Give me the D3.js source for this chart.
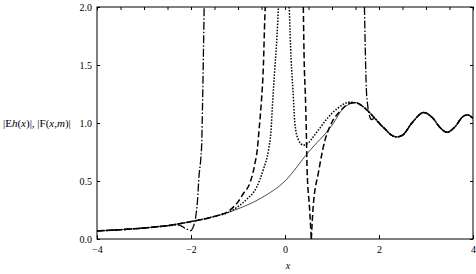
<!DOCTYPE html>
<html>
<head>
<meta charset="utf-8">
<script src="https://cdn.jsdelivr.net/npm/d3@7"></script>
<style>
  body { margin: 0; background: #fff; }
  svg { display: block; }
  svg text { font-family: "Liberation Serif", "DejaVu Serif", serif; }
</style>
</head>
<body>
<div id="container"></div>
<script>
// exact function (thin solid)
var exactPts = [
  [-4, 0.07], [-3.5, 0.08], [-3, 0.095], [-2.5, 0.115], [-2, 0.15], [-1.5, 0.195],
  [-1, 0.26], [-0.5, 0.355], [0, 0.5], [0.5, 0.75], [1, 0.98], [1.25, 1.13],
  [1.5, 1.175], [1.75, 1.11], [2, 1.0], [2.1, 0.96], [2.25, 0.9], [2.38, 0.88],
  [2.5, 0.895], [2.7, 1.0], [2.95, 1.09], [3.15, 1.04], [3.3, 0.96], [3.45, 0.92],
  [3.6, 0.96], [3.8, 1.06], [3.88, 1.07], [4, 1.04]
];
// dotted approximation, two branches around the pole
var dottedLeft = [
  [-4, 0.07], [-3.5, 0.08], [-3, 0.095], [-2.5, 0.115], [-2, 0.15], [-1.5, 0.195],
  [-1.2, 0.23], [-1, 0.28], [-0.82, 0.34], [-0.6, 0.45], [-0.46, 0.6], [-0.35, 0.77],
  [-0.3, 0.92], [-0.26, 1.2], [-0.22, 1.45], [-0.17, 1.75], [-0.14, 2.0]
];
var dottedRight = [
  [0.09, 2.0], [0.13, 1.55], [0.17, 1.28], [0.21, 1.0], [0.28, 0.86], [0.39, 0.81],
  [0.5, 0.83], [0.6, 0.88], [0.75, 0.96], [0.9, 1.04], [1.1, 1.12], [1.38, 1.18],
  [1.5, 1.175], [1.75, 1.11], [2, 1.0], [2.1, 0.96], [2.25, 0.9], [2.38, 0.88],
  [2.5, 0.895], [2.7, 1.0], [2.95, 1.09], [3.15, 1.04], [3.3, 0.96], [3.45, 0.92],
  [3.6, 0.96], [3.8, 1.06], [3.88, 1.07], [4, 1.04]
];
// dashed approximation: pole near -0.42 / 0.39, zero near 0.56
var dashedLeft = [
  [-4, 0.07], [-3.5, 0.08], [-3, 0.095], [-2.5, 0.115], [-2, 0.15], [-1.5, 0.195],
  [-1.17, 0.25], [-1, 0.32], [-0.89, 0.39], [-0.74, 0.49], [-0.64, 0.65], [-0.59, 0.77],
  [-0.55, 0.95], [-0.5, 1.2], [-0.46, 1.49], [-0.43, 1.9], [-0.42, 2.0]
];
var dashedMid = [
  [0.39, 2.0], [0.41, 1.5], [0.43, 1.28], [0.45, 1.0], [0.47, 0.6], [0.52, 0.28], [0.56, 0.0]
];
var dashedRight = [
  [0.56, 0.0], [0.6, 0.28], [0.71, 0.57], [0.85, 0.85], [0.99, 1.0], [1.17, 1.1],
  [1.38, 1.17], [1.5, 1.175], [1.75, 1.11], [2, 1.0], [2.1, 0.96], [2.25, 0.9],
  [2.38, 0.88], [2.5, 0.895], [2.7, 1.0], [2.95, 1.09], [3.15, 1.04], [3.3, 0.96],
  [3.45, 0.92], [3.6, 0.96], [3.8, 1.06], [3.88, 1.07], [4, 1.04]
];
// dash-dot approximation: dip near -2, pole between -1.72 and 1.69
var dashdotLeft = [
  [-4, 0.07], [-3.5, 0.08], [-3, 0.095], [-2.5, 0.115], [-2.25, 0.12], [-2.12, 0.09], [-2.0, 0.07]
];
var dashdotMid = [
  [-2.0, 0.07], [-1.93, 0.13], [-1.89, 0.22], [-1.86, 0.34], [-1.83, 0.54],
  [-1.79, 0.7], [-1.77, 0.85], [-1.76, 1.05], [-1.75, 1.25], [-1.74, 1.49], [-1.72, 2.0]
];
var dashdotRight = [
  [1.69, 2.0], [1.71, 1.6], [1.73, 1.3], [1.76, 1.15], [1.8, 1.06], [1.84, 1.03],
  [1.9, 1.04], [1.97, 1.02], [2.05, 0.975], [2.1, 0.96], [2.25, 0.9], [2.38, 0.88],
  [2.5, 0.895], [2.7, 1.0], [2.95, 1.09], [3.15, 1.04], [3.3, 0.96], [3.45, 0.92],
  [3.6, 0.96], [3.8, 1.06], [3.88, 1.07], [4, 1.04]
];

var xTicks = [-4, -2, 0, 2, 4];
var yTicks = [0, 0.5, 1, 1.5, 2];
var yTickLabels = ["0.0", "0.5", "1.0", "1.5", "2.0"];

var W = 476, H = 274;
var padL = 97, padR = 473, padT = 7, padB = 239;

var x = d3.scaleLinear().domain([-4, 4]).range([padL, padR]);
var y = d3.scaleLinear().domain([0, 2]).range([padB, padT]);

var svg = d3.select("#container").append("svg")
  .attr("width", W)
  .attr("height", H);

svg.append("defs").append("clipPath").attr("id", "clip")
  .append("rect")
  .attr("x", padL).attr("y", padT)
  .attr("width", padR - padL).attr("height", padB - padT);

var line = d3.line()
  .x(function(d) { return x(d[0]); })
  .y(function(d) { return y(d[1]); })
  .curve(d3.curveMonotoneX);

var plot = svg.append("g").attr("clip-path", "url(#clip)");

plot.append("path").datum(exactPts)
  .attr("d", line).attr("fill", "none")
  .attr("stroke", "#000").attr("stroke-width", 0.7);

[dottedLeft, dottedRight].forEach(function(seg) {
  plot.append("path").datum(seg)
    .attr("d", line).attr("fill", "none")
    .attr("stroke", "#000").attr("stroke-width", 1.5)
    .attr("stroke-dasharray", "1.5,1.5");
});

[dashedLeft, dashedMid, dashedRight].forEach(function(seg) {
  plot.append("path").datum(seg)
    .attr("d", line).attr("fill", "none")
    .attr("stroke", "#000").attr("stroke-width", 1.5)
    .attr("stroke-dasharray", "6,3");
});

[dashdotLeft, dashdotMid, dashdotRight].forEach(function(seg) {
  plot.append("path").datum(seg)
    .attr("d", line).attr("fill", "none")
    .attr("stroke", "#000").attr("stroke-width", 1.3)
    .attr("stroke-dasharray", "8,2,1.5,2");
});

// frame with ticks on all four sides
svg.append("g")
  .attr("transform", "translate(0," + padB + ")")
  .call(d3.axisBottom(x).tickValues(xTicks).tickSizeInner(-4).tickSizeOuter(0).tickPadding(7)
    .tickFormat(function(d) { return d < 0 ? "\u2212" + Math.abs(d) : d; }))
  .call(function(g) {
    g.select(".domain").remove();
    g.attr("font-family", null);
    g.selectAll("text").attr("font-size", 10).attr("fill", "#000");
  });

svg.append("g")
  .attr("transform", "translate(0," + padT + ")")
  .call(d3.axisTop(x).tickValues(d3.range(-4, 4.01, 0.5)).tickSizeInner(-3).tickSizeOuter(0).tickFormat(""))
  .call(function(g) { g.select(".domain").remove(); });

svg.append("g")
  .attr("transform", "translate(" + padL + ",0)")
  .call(d3.axisLeft(y).tickValues(yTicks).tickSizeInner(-3).tickSizeOuter(0).tickPadding(5)
    .tickFormat(function(d, i) { return yTickLabels[i]; }))
  .call(function(g) {
    g.select(".domain").remove();
    g.attr("font-family", null);
    g.selectAll("text").attr("font-size", 10).attr("fill", "#000");
  });

svg.append("g")
  .attr("transform", "translate(" + padR + ",0)")
  .call(d3.axisRight(y).tickValues(yTicks).tickSizeInner(-3).tickSizeOuter(0).tickFormat(""))
  .call(function(g) { g.select(".domain").remove(); });

svg.append("rect")
  .attr("x", padL).attr("y", padT)
  .attr("width", padR - padL).attr("height", padB - padT)
  .attr("fill", "none").attr("stroke", "#000").attr("stroke-width", 1);

// axis titles
svg.append("text")
  .attr("x", 288).attr("y", 269)
  .attr("text-anchor", "middle")
  .attr("font-size", 10).attr("font-style", "italic")
  .text("x");

var yl = svg.append("text")
  .attr("x", 3).attr("y", 127)
  .attr("font-size", 11);
yl.append("tspan").text("|E");
yl.append("tspan").attr("font-style", "italic").text("h");
yl.append("tspan").text("(");
yl.append("tspan").attr("font-style", "italic").text("x");
yl.append("tspan").text(")|, |F(");
yl.append("tspan").attr("font-style", "italic").text("x,m");
yl.append("tspan").text(")|");
</script>
</body>
</html>
